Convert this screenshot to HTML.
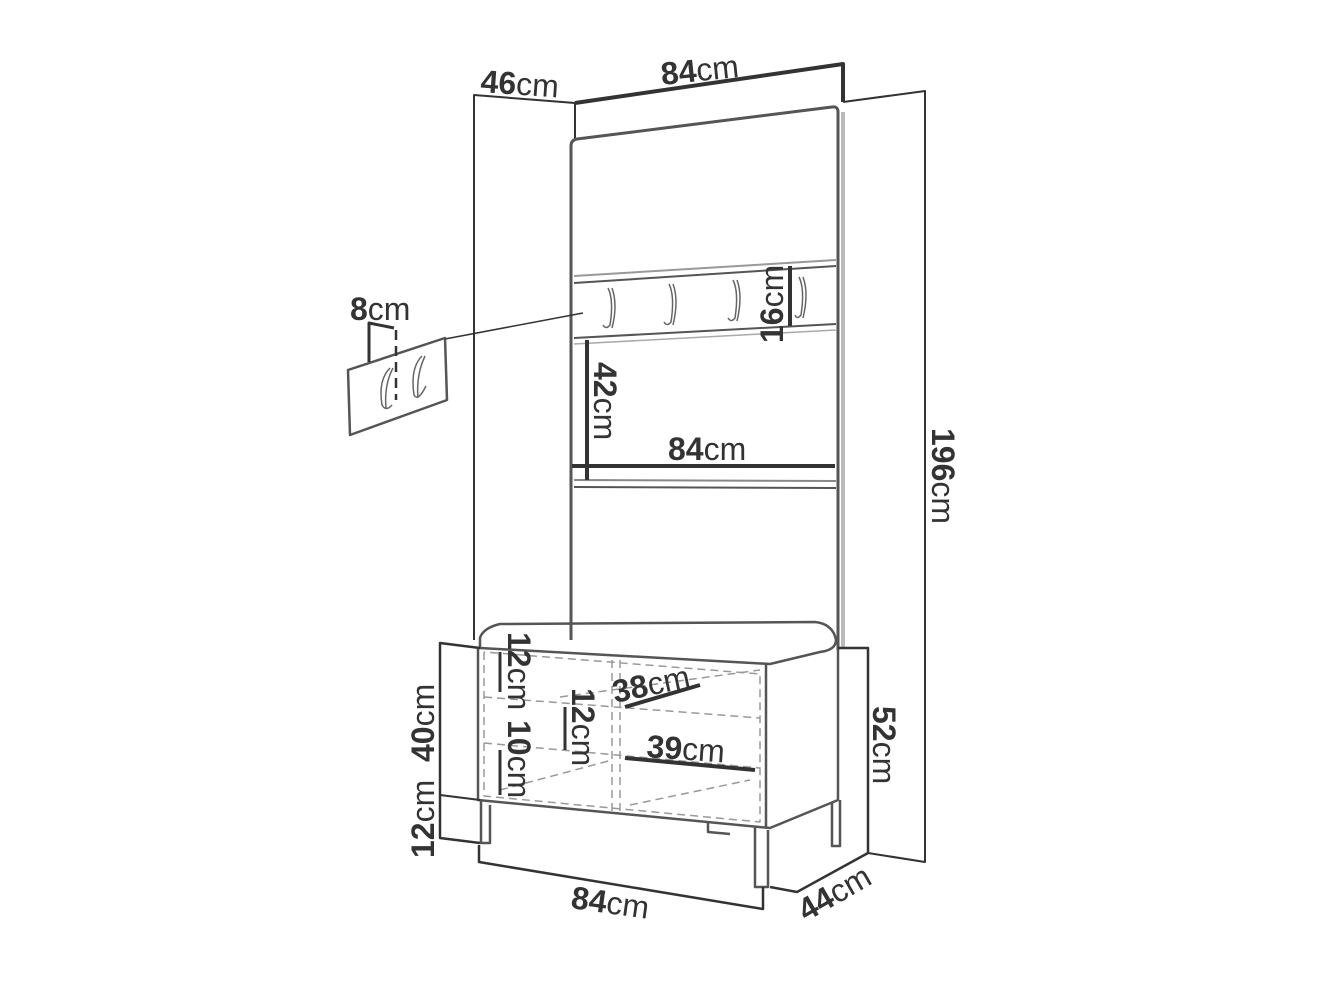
<!DOCTYPE html>
<html><head><meta charset="utf-8"><style>
html,body{margin:0;padding:0;background:#fff}
svg{display:block}
text{font-family:"Liberation Sans","DejaVu Sans",sans-serif;fill:#333;font-size:32px}
.b{font-weight:bold}
</style></head><body>
<svg width="1320" height="990" viewBox="0 0 1320 990">
<g fill="none" stroke="#333" stroke-linejoin="round">
<polyline points="474,640 474,95 575,103 575,140" stroke-width="2"/>
<polyline points="575,103 843,64 843,102" stroke-width="4"/>
<polyline points="843,102 925,91 925,862 868,853" stroke-width="2"/>
<path d="M571,640 L571,146 Q571,140 577,139 L832,107 Q838,106 838,112 L838,650" stroke-width="3" stroke="#555"/>
<line x1="843" y1="112" x2="843" y2="648" stroke="#bbb" stroke-width="4"/>
<line x1="574" y1="276" x2="836" y2="260" stroke="#999" stroke-width="2"/>
<line x1="574" y1="283" x2="836" y2="266" stroke="#555" stroke-width="2"/>
<line x1="574" y1="338" x2="836" y2="324" stroke="#555" stroke-width="2"/>
<line x1="574" y1="344" x2="836" y2="330" stroke="#aaa" stroke-width="1.5"/>
<line x1="574" y1="480" x2="836" y2="481" stroke="#888" stroke-width="2"/>
<line x1="574" y1="487" x2="836" y2="488" stroke="#555" stroke-width="2"/>
<line x1="790" y1="266" x2="790" y2="326" stroke-width="4"/>
<line x1="587" y1="340" x2="587" y2="480" stroke-width="4"/>
<line x1="572" y1="466" x2="835" y2="466" stroke-width="4"/>
<g stroke="#666" stroke-width="1.5">
<path d="M608,288 Q614,300 610,325 Q606,330 603,325 M612,288 Q618,305 612,328"/>
<path d="M669,284 Q675,296 671,322 Q667,327 664,322 M673,284 Q679,300 673,325"/>
<path d="M733,280 Q739,292 735,318 Q731,323 728,318 M737,280 Q743,296 737,321"/>
<path d="M799,277 Q805,289 801,315 Q797,320 795,315 M803,277 Q809,293 803,318"/>
</g>
<line x1="445" y1="339" x2="583" y2="313" stroke-width="1.5"/>
<polygon points="348,370 445,338 447,400 350,435" stroke="#555" stroke-width="2.5"/>
<polyline points="369,362 369,323 394,328" stroke-width="3"/>
<line x1="396" y1="330" x2="396" y2="400" stroke-width="2.5" stroke-dasharray="10,6"/>
<g stroke="#666" stroke-width="1.5">
<path d="M390,368 Q378,380 382,405 Q386,412 392,405 M393,368 Q384,385 386,408"/>
<path d="M422,356 Q410,368 414,395 Q418,402 426,386 M425,356 Q416,375 418,398"/>
</g>
<path d="M480,638 Q483,628 500,624 L815,622 Q833,624 836,640 Q836,650 820,652 L770,664 L480,648 Z" stroke="#555" stroke-width="2.5"/>
<polyline points="478,648 478,800 770,828 838,800 838,650" stroke="#555" stroke-width="2.5"/>
<polyline points="766,664 766,828" stroke="#555" stroke-width="2.5"/>
<g stroke="#999" stroke-width="1.5" stroke-dasharray="8,5">
<polyline points="484,652 484,796 760,822 760,674 484,652"/>
<line x1="612" y1="660" x2="612" y2="812"/>
<line x1="620" y1="660" x2="620" y2="812"/>
<line x1="484" y1="697" x2="760" y2="718"/>
<line x1="484" y1="743" x2="760" y2="768"/>
<line x1="560" y1="697" x2="760" y2="670"/>
<line x1="500" y1="790" x2="612" y2="760"/>
<line x1="630" y1="805" x2="750" y2="780"/>
</g>
<g stroke="#555" stroke-width="2.5">
<polyline points="481,800 481,843 490,843 490,805"/>
<polyline points="755,826 755,887 768,887 768,830"/>
<polyline points="832,802 832,846 840,846 840,800"/>
<polyline points="708,822 708,832 730,834"/>
</g>
<polyline points="480,648 440,643 440,838 480,843" stroke-width="2.5"/>
<line x1="440" y1="795" x2="480" y2="800" stroke-width="2"/>
<polyline points="479,845 479,862 763,909 763,887" stroke-width="2.5"/>
<polyline points="770,887 797,892 868,853 868,648 838,648" stroke-width="2.5"/>
<line x1="868" y1="853" x2="925" y2="862" stroke-width="1.5"/>
<line x1="500" y1="652" x2="500" y2="692" stroke-width="3"/>
<line x1="565" y1="707" x2="565" y2="750" stroke-width="3"/>
<line x1="500" y1="750" x2="500" y2="795" stroke-width="3"/>
<line x1="625" y1="707" x2="700" y2="685" stroke-width="4"/>
<line x1="625" y1="758" x2="755" y2="770" stroke-width="4"/>
</g>
<text x="480" y="92" transform="rotate(4 480 92)"><tspan class="b">46</tspan>cm</text>
<text x="662" y="85" transform="rotate(-6 662 85)"><tspan class="b">84</tspan>cm</text>
<text x="350" y="320"><tspan class="b">8</tspan>cm</text>
<text transform="translate(783,343) rotate(-90)"><tspan class="b">16</tspan>cm</text>
<text transform="translate(594,362) rotate(90)"><tspan class="b">42</tspan>cm</text>
<text x="668" y="460"><tspan class="b">84</tspan>cm</text>
<text transform="translate(932,428) rotate(90)"><tspan class="b">196</tspan>cm</text>
<text transform="translate(873,706) rotate(90)"><tspan class="b">52</tspan>cm</text>
<text transform="translate(434,762) rotate(-90)"><tspan class="b">40</tspan>cm</text>
<text transform="translate(434,858) rotate(-90)"><tspan class="b">12</tspan>cm</text>
<text transform="translate(508,632) rotate(90)"><tspan class="b">12</tspan>cm</text>
<text transform="translate(572,688) rotate(90)"><tspan class="b">12</tspan>cm</text>
<text transform="translate(508,720) rotate(90)"><tspan class="b">10</tspan>cm</text>
<text x="615" y="703" transform="rotate(-12 615 703)"><tspan class="b">38</tspan>cm</text>
<text x="646" y="757" transform="rotate(4 646 757)"><tspan class="b">39</tspan>cm</text>
<text x="570" y="908" transform="rotate(8 570 908)"><tspan class="b">84</tspan>cm</text>
<text x="806" y="922" transform="rotate(-30 806 922)"><tspan class="b">44</tspan>cm</text>
</svg>
</body></html>
